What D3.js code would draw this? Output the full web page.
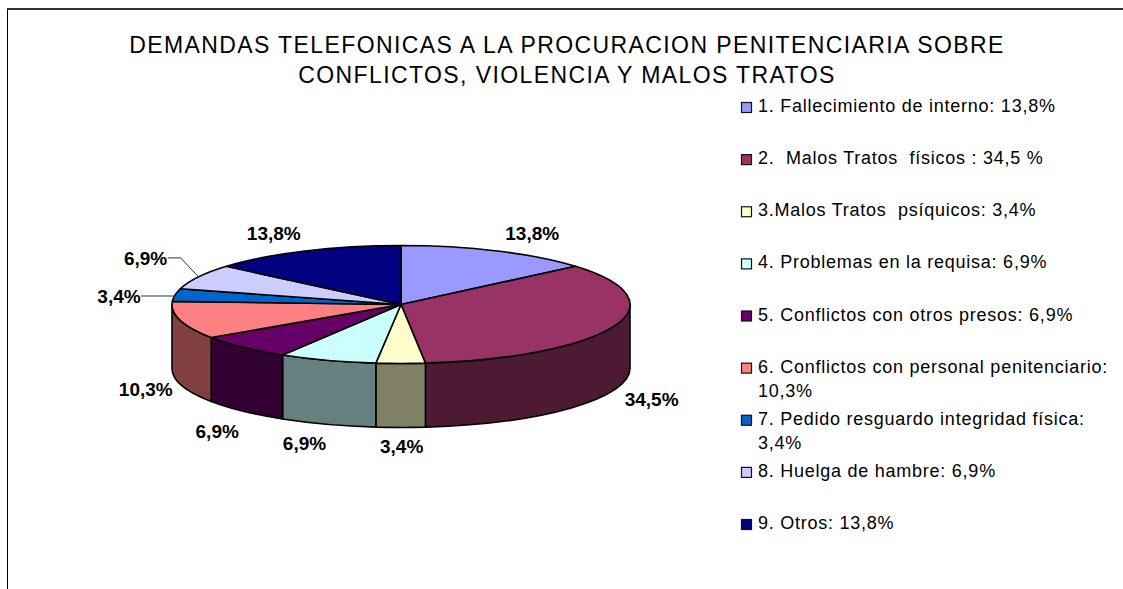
<!DOCTYPE html>
<html><head><meta charset="utf-8">
<script src="https://cdn.jsdelivr.net/npm/d3@7"></script>
<style>html,body{margin:0;padding:0;background:#fff}svg{display:block}text{font-family:"Liberation Sans",Arial,sans-serif;white-space:pre;fill:#000}</style>
</head><body><svg id="c" width="1123" height="589"></svg>
<script>
const titleLines = ["DEMANDAS TELEFONICAS A LA PROCURACION PENITENCIARIA SOBRE","CONFLICTOS, VIOLENCIA Y MALOS TRATOS"];
const values = [13.8,34.5,3.45,6.9,6.9,10.3,3.45,6.9,13.8];
const valueLabels = ["13,8%","34,5%","3,4%","6,9%","6,9%","10,3%","3,4%","6,9%","13,8%"];
const colors = ["#9999FF","#993366","#FFFFCC","#CCFFFF","#660066","#FF8080","#0066CC","#CCCCFF","#000080"];
const legendLabels = [
 ["1. Fallecimiento de interno: 13,8%"],
 ["2.  Malos Tratos  físicos : 34,5 %"],
 ["3.Malos Tratos  psíquicos: 3,4%"],
 ["4. Problemas en la requisa: 6,9%"],
 ["5. Conflictos con otros presos: 6,9%"],
 ["6. Conflictos con personal penitenciario:","10,3%"],
 ["7. Pedido resguardo integridad física:","3,4%"],
 ["8. Huelga de hambre: 6,9%"],
 ["9. Otros: 13,8%"]];
const labelNudges = [[35,-18],[38,9],[1,18.5],[-23,18.6],[-26,20],[-34.5,5.5],[-56,1],[-53,-19],[-31,-18]];

const svg = d3.select("#c");
const cx=401, cy=304.5, rx=229, ry=59, depth=64;
const stroke="#000";

// frame
svg.append("path").attr("d","M7.5 589V8").attr("fill","none").attr("stroke","#000").attr("stroke-width",1);
svg.append("path").attr("d","M7 9H1123").attr("fill","none").attr("stroke","#333").attr("stroke-width",2);

// title
svg.append("g").selectAll("text").data(titleLines).join("text")
 .attr("x",567).attr("y",(d,i)=>53+i*30).attr("text-anchor","middle")
 .attr("font-size",23).attr("letter-spacing",1.4).text(d=>d);

const pie=d3.pie().sort(null).value(d=>d);
const arcs=pie(values);
const px=a=>cx+rx*Math.sin(a), py=a=>cy-ry*Math.cos(a);
const darker=c=>{const r=d3.rgb(c);return d3.rgb(r.r/2,r.g/2,r.b/2).formatHex();};

// walls
const H=Math.PI/2, W=3*Math.PI/2;
svg.append("g").selectAll("path")
 .data(arcs.filter(d=>d.endAngle>H&&d.startAngle<W)).join("path")
 .attr("d",d=>{
   const a=Math.max(d.startAngle,H), b=Math.min(d.endAngle,W);
   return `M${px(a)} ${py(a)}A${rx} ${ry} 0 0 1 ${px(b)} ${py(b)}V${py(b)+depth}A${rx} ${ry} 0 0 0 ${px(a)} ${py(a)+depth}Z`;
 })
 .attr("fill",d=>darker(colors[d.index])).attr("stroke",stroke).attr("stroke-width",1.6).attr("stroke-linejoin","round");

// top
const arc=d3.arc().innerRadius(0).outerRadius(rx);
svg.append("g").attr("transform",`translate(${cx},${cy}) scale(1,${ry/rx})`)
 .selectAll("path").data(arcs).join("path")
 .attr("d",arc).attr("fill",d=>colors[d.index]).attr("stroke",stroke).attr("stroke-width",1.6)
 .attr("stroke-linejoin","round").attr("vector-effect","non-scaling-stroke");

// data labels
const frontWall=a=>a>H&&a<W;
const labelPos=arcs.map(d=>{
  const m=(d.startAngle+d.endAngle)/2;
  return [px(m)+labelNudges[d.index][0], py(m)+(frontWall(m)?depth:0)+labelNudges[d.index][1], m];
});
svg.append("g").selectAll("text").data(arcs).join("text")
 .attr("x",d=>labelPos[d.index][0]).attr("y",d=>labelPos[d.index][1]).attr("dy","0.35em")
 .attr("text-anchor","middle").attr("font-weight","bold").attr("font-size",19)
 .text(d=>valueLabels[d.index]);

// leaders for the two thin slices
const m6=labelPos[6][2], m7=labelPos[7][2];
const leaders=[
 [[labelPos[6][0]+22,labelPos[6][1]],[px(m6),labelPos[6][1]]],
 [[labelPos[7][0]+22,labelPos[7][1]],[labelPos[7][0]+35,labelPos[7][1]],[px(m7),py(m7)]]
];
svg.append("g").selectAll("path").data(leaders).join("path")
 .attr("d",d3.line()).attr("fill","none").attr("stroke","#333").attr("stroke-width",1);

// legend
const ly=d3.scaleLinear().domain([0,8]).range([112,529]);
const lg=svg.append("g").selectAll("g").data(legendLabels).join("g")
 .attr("transform",(d,i)=>`translate(741,${ly(i)})`);
lg.append("rect").attr("x",0.5).attr("y",-9.5).attr("width",10).attr("height",10)
 .attr("fill",(d,i)=>colors[i]).attr("stroke","#111").attr("stroke-width",1.2);
lg.selectAll("text").data(d=>d).join("text").attr("x",17).attr("y",(d,i)=>i*24.5)
 .attr("font-size",18).attr("letter-spacing",0.75).text(d=>d);
</script></body></html>
